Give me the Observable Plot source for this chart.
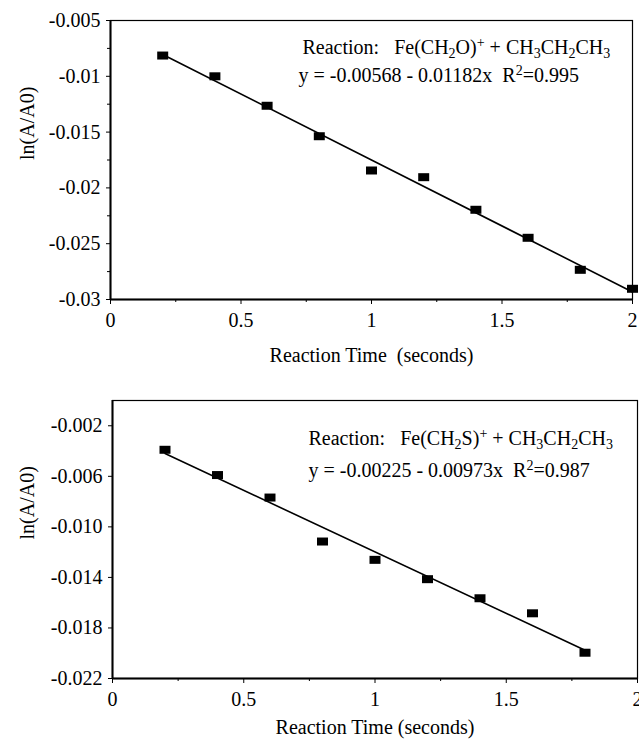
<!DOCTYPE html>
<html><head><meta charset="utf-8">
<script src="https://cdn.jsdelivr.net/npm/d3@7"></script>
<script src="https://cdn.jsdelivr.net/npm/@observablehq/plot@0.6"></script>
<style>body{margin:0;background:#fff} #chart svg{display:block}</style>
</head><body><div id="chart"></div>
<script>
// ---- data ----
const timesTop = [0.2, 0.4, 0.6, 0.8, 1.0, 1.2, 1.4, 1.6, 1.8, 2.0];
const lnTop = [-0.00814, -0.0100, -0.01264, -0.01537, -0.01844, -0.01904, -0.02196, -0.02447, -0.02734, -0.02904];
const timesBottom = [0.2, 0.4, 0.6, 0.8, 1.0, 1.2, 1.4, 1.6, 1.8];
const lnBottom = [-0.0039, -0.0059, -0.00768, -0.01116, -0.01261, -0.01414, -0.01565, -0.01684, -0.01996];
const intercepts = [-0.00568, -0.00225];
const slopes = [-0.01182, -0.00973];

const xTicks = [0, 0.5, 1, 1.5, 2];
const xTickLabels = ["0", "0.5", "1", "1.5", "2"];
const xMinorTicks = [0.25, 0.75, 1.25, 1.75];
const yTicksTop = [-0.005, -0.01, -0.015, -0.02, -0.025, -0.03];
const yTickLabelsTop = ["-0.005", "-0.01", "-0.015", "-0.02", "-0.025", "-0.03"];
const yMinorTop = [-0.0075, -0.0125, -0.0175, -0.0225, -0.0275];
const yTicksBottom = [-0.002, -0.006, -0.010, -0.014, -0.018, -0.022];
const yTickLabelsBottom = ["-0.002", "-0.006", "-0.010", "-0.014", "-0.018", "-0.022"];
const yDomainTop = [-0.03, -0.005];
const yDomainBottom = [-0.022, 0];

const NB = "\u00a0";
const annotTop1 = [["Reaction:" + NB + NB + " Fe(CH", 0], ["2", 1], ["O)", 0], ["+", -1], [" + CH", 0], ["3", 1], ["CH", 0], ["2", 1], ["CH", 0], ["3", 1]];
const annotTop2 = [["y = -0.00568 - 0.01182x" + NB + " R", 0], ["2", -1], ["=0.995", 0]];
const annotBottom1 = [["Reaction:" + NB + NB + " Fe(CH", 0], ["2", 1], ["S)", 0], ["+", -1], [" + CH", 0], ["3", 1], ["CH", 0], ["2", 1], ["CH", 0], ["3", 1]];
const annotBottom2 = [["y = -0.00225 - 0.00973x" + NB + " R", 0], ["2", -1], ["=0.987", 0]];
const xLabelTop = "Reaction Time" + NB + " (seconds)";
const xLabelBottom = "Reaction Time (seconds)";
const yLabel = "ln(A/A0)";

// ---- drawing ----
const rectSymbol = {draw(ctx) { ctx.rect(-5.5, -4, 11, 8); }};
const FONT = "'Liberation Serif', 'Times New Roman', serif";
const FS = 20;
const T = {fontSize: FS, fontFamily: FONT, fill: "black"};

function panel(o) {
  const pts = o.xs.map((x, i) => ({x, y: o.ys[i]}));
  const xEnds = [o.xs[0], o.xs[o.xs.length - 1]];
  const fit = xEnds.map(x => ({x, y: o.intercept + o.slope * x}));
  const plain1 = o.annot1.map(s => s[0]).join("");
  const plain2 = o.annot2.map(s => s[0]).join("");
  const marks = [
    Plot.frame({stroke: "black", strokeWidth: 1.2}),
    Plot.ruleY([o.yDomain[0]], {stroke: "black", strokeWidth: 2}),
    Plot.ruleX([0], {stroke: "black", strokeWidth: 2}),
    Plot.axisX({ticks: xTicks, tickFormat: d => xTickLabels[xTicks.indexOf(d)], tickSize: 5, tickPadding: 8,
      label: null, ...T}),
    Plot.axisX({ticks: xMinorTicks, tickSize: 3, text: null, label: null}),
    Plot.axisY({ticks: o.yTicks, tickFormat: d => o.yTickLabels[o.yTicks.indexOf(d)], tickSize: 4, tickPadding: 6,
      label: null, ...T}),
  ];
  if (o.yMinor) marks.push(Plot.axisY({ticks: o.yMinor, tickSize: 3, text: null, label: null}));
  marks.push(
    Plot.line(fit, {x: "x", y: "y", stroke: "black", strokeWidth: 1.6}),
    Plot.dot(pts, {x: "x", y: "y", symbol: rectSymbol, fill: "black", stroke: null}),
    Plot.text([o.xLabel], {frameAnchor: "bottom", dy: o.xLabelDy, lineAnchor: "middle", ...T}),
    Plot.text([yLabel], {frameAnchor: "left", dx: o.yLabelDx, rotate: -90, lineAnchor: "middle", ...T}),
    Plot.text([plain1], {frameAnchor: "top-left", dx: o.tx1, dy: o.ty1, textAnchor: "start", lineAnchor: "middle", ...T}),
    Plot.text([plain2], {frameAnchor: "top-left", dx: o.tx2, dy: o.ty2, textAnchor: "start", lineAnchor: "middle", ...T})
  );
  const svg = Plot.plot({
    width: 639, height: o.height,
    marginTop: o.marginTop, marginBottom: o.marginBottom, marginLeft: o.marginLeft, marginRight: o.marginRight,
    style: {fontFamily: FONT, fontSize: FS + "px", color: "black", background: "white", overflow: "visible"},
    x: {domain: [0, 2]},
    y: {domain: o.yDomain},
    marks
  });
  // rich text: subscripts / superscripts
  [[plain1, o.annot1], [plain2, o.annot2]].forEach(([plain, segs]) => {
    d3.select(svg).selectAll("text").filter(function () { return this.textContent === plain; }).each(function () {
      const t = d3.select(this);
      t.text(null);
      let cur = 0;
      segs.forEach(([s, k]) => {
        const target = k === 1 ? 4 : k === -1 ? -7 : 0;
        const ts = t.append("tspan").text(s);
        if (target !== cur) ts.attr("dy", target - cur);
        if (k !== 0) ts.attr("font-size", "14px");
        cur = target;
      });
    });
  });
  return svg;
}

const chart = document.getElementById("chart");
chart.append(panel({
  xs: timesTop, ys: lnTop, intercept: intercepts[0], slope: slopes[0],
  yDomain: yDomainTop, yTicks: yTicksTop, yTickLabels: yTickLabelsTop, yMinor: yMinorTop,
  annot1: annotTop1, annot2: annotTop2, xLabel: xLabelTop,
  height: 370, marginTop: 20, marginBottom: 71, marginLeft: 110, marginRight: 7,
  xLabelDy: 56, yLabelDx: -83, tx1: 192, ty1: 27, tx2: 188, ty2: 55
}));
chart.append(panel({
  xs: timesBottom, ys: lnBottom, intercept: intercepts[1], slope: slopes[1],
  yDomain: yDomainBottom, yTicks: yTicksBottom, yTickLabels: yTickLabelsBottom, yMinor: null,
  annot1: annotBottom1, annot2: annotBottom2, xLabel: xLabelBottom,
  height: 370, marginTop: 30, marginBottom: 62, marginLeft: 112, marginRight: 2,
  xLabelDy: 49, yLabelDx: -85, tx1: 196, ty1: 38, tx2: 196, ty2: 70
}));
</script>
</body></html>
